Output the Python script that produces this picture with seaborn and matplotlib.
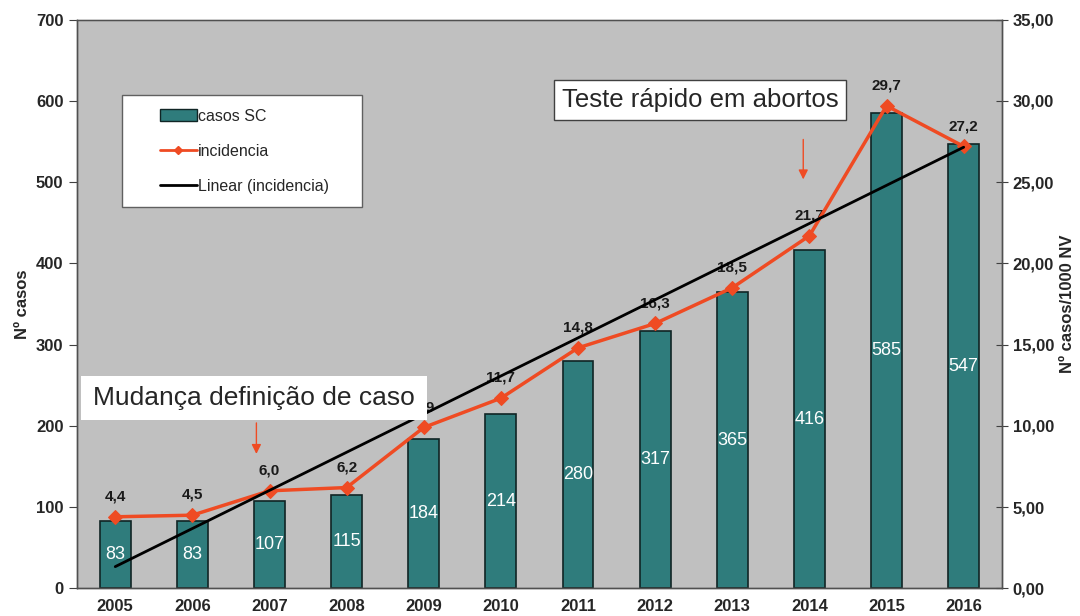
import matplotlib
matplotlib.use('Agg')
import matplotlib.pyplot as plt
import seaborn as sns
import numpy as np
import pandas as pd
from matplotlib.lines import Line2D
from matplotlib.patches import Patch, Rectangle

sns.set_style('white')
plt.rcParams['font.family'] = ['Liberation Sans', 'DejaVu Sans']

# data
anos = ['2005', '2006', '2007', '2008', '2009', '2010',
        '2011', '2012', '2013', '2014', '2015', '2016']
casos = [83, 83, 107, 115, 184, 214, 280, 317, 365, 416, 585, 547]
incidencia = [4.4, 4.5, 6.0, 6.2, 9.9, 11.7, 14.8, 16.3, 18.5, 21.7, 29.7, 27.2]

bg = '#c0c0c0'
teal = '#2f7c7c'
laranja = '#ef4b23'

df = pd.DataFrame({'ano': anos, 'casos': casos, 'incidencia': incidencia})
pos = np.arange(len(anos))

fig = plt.figure(figsize=(10.8, 6.16), dpi=100)
ax = fig.add_axes([0.071, 0.045, 0.857, 0.923])
ax.set_facecolor(bg)

sns.barplot(data=df, x='ano', y='casos', color=teal, width=0.4,
            edgecolor='#102525', linewidth=1.2, saturation=1, ax=ax)
ax.set_xlim(-0.5, len(anos) - 0.5)
ax.set_ylim(0, 700)
ax.set_yticks(range(0, 701, 100))
ax.set_xlabel('')
ax.set_ylabel('Nº casos', fontsize=12, fontweight='bold')

# labels inside bars
for i, v in enumerate(casos):
    ax.text(i, v / 2, str(v), color='white', ha='center', va='center', fontsize=13)

ax2 = ax.twinx()
sns.lineplot(x=pos, y=incidencia, ax=ax2, color=laranja, linewidth=2.5,
             marker='D', markersize=7, markeredgecolor=laranja, zorder=3)
# linear trend of incidence
coef = np.polyfit(pos, incidencia, 1)
ax2.plot(pos, np.polyval(coef, pos), color='black', linewidth=2, zorder=3)
ax2.set_ylim(0, 35)
ax2.set_yticks(range(0, 36, 5))
ax2.set_yticklabels([f'{v},00' for v in range(0, 36, 5)])
ax2.set_ylabel('Nº casos/1000 NV', fontsize=12, fontweight='bold')

for i, v in enumerate(incidencia):
    ax2.text(i, v + 1.25, f'{v:.1f}'.replace('.', ','), ha='center', va='center',
             fontsize=11, fontweight='bold', color='#1a1a1a', zorder=1)

# ticks
ax.set_xticks(pos)
ax.set_xticklabels(anos, fontsize=12, fontweight='bold')
ax.set_xticks(np.arange(-0.5, len(anos), 1), minor=True)
ax.tick_params(axis='x', which='major', length=0, pad=8)
ax.tick_params(axis='x', which='minor', length=8, direction='inout', color='#404040')
ax.tick_params(axis='y', length=6, direction='out', color='#404040', labelsize=12)
for t in ax.get_yticklabels():
    t.set_fontweight('bold')
ax2.tick_params(axis='y', length=8, direction='inout', color='#404040', labelsize=12)
for t in ax2.get_yticklabels():
    t.set_fontweight('bold')
for a in (ax, ax2):
    for s in a.spines.values():
        s.set_color('#505050')
        s.set_linewidth(1)
ax.spines['top'].set_color('#909090')

# annotations
ax2.text(0.524, 0.859, 'Teste rápido em abortos', transform=ax.transAxes,
         fontsize=18.5, ha='left', va='center', zorder=5,
         bbox=dict(boxstyle='square,pad=0.3', fc='white', ec='#404040', lw=1))
ax2.add_patch(Rectangle((0.005, 0.296), 0.374, 0.078, transform=ax.transAxes,
                        facecolor='white', edgecolor='none', zorder=4))
ax2.text(0.018, 0.335, 'Mudança definição de caso', transform=ax.transAxes,
         fontsize=19, ha='left', va='center', zorder=5)
ax2.annotate('', xy=(1.83, 8.1), xytext=(1.83, 10.35),
             arrowprops=dict(arrowstyle='-|>', color=laranja, lw=1, mutation_scale=14))
ax2.annotate('', xy=(8.92, 25.0), xytext=(8.92, 27.8),
             arrowprops=dict(arrowstyle='-|>', color=laranja, lw=1, mutation_scale=14))

# legend: white box plus frameless legend inside it
ax2.add_patch(Rectangle((0.0486, 0.671), 0.2595, 0.197, transform=ax.transAxes,
                        facecolor='white', edgecolor='#606060', lw=1, zorder=5))
handles = [Patch(facecolor=teal, edgecolor='#102525', label='casos SC'),
           Line2D([], [], color=laranja, lw=2, marker='D', markersize=4, label='incidencia'),
           Line2D([], [], color='black', lw=2, label='Linear (incidencia)')]
leg = ax2.legend(handles=handles, loc='center left', bbox_to_anchor=(0.09, 0.769),
                 frameon=False, fontsize=11.5, labelspacing=1.25,
                 handlelength=2.3, handletextpad=0.05, borderpad=0, borderaxespad=0)
leg.set_zorder(6)

fig.savefig('out.png', dpi=100)
